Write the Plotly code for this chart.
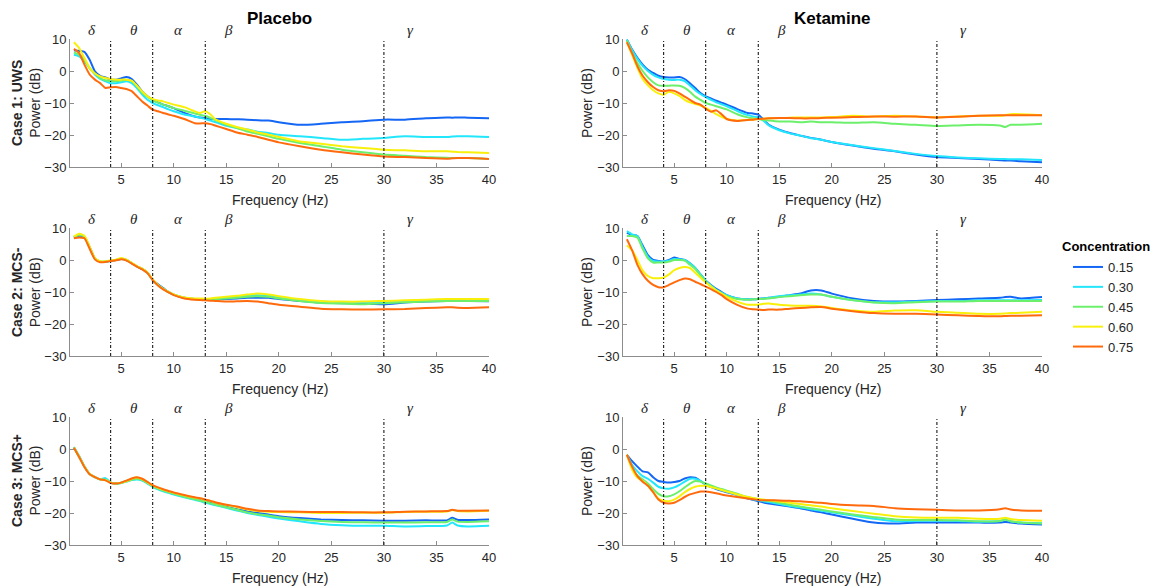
import plotly.graph_objects as go

# ---------------- data ----------------
FREQ = [0.5, 1, 1.5, 2, 2.5, 3, 3.5, 4, 4.5, 5, 5.5, 6, 6.5, 7, 7.5, 8, 8.5, 9, 9.5, 10,
        11, 12, 12.5, 13, 13.5, 14, 15, 16, 17, 18, 19, 20, 22, 24, 26, 28, 30, 32, 34, 36,
        36.5, 37, 38, 40]

CONCENTRATIONS = ["0.15", "0.30", "0.45", "0.60", "0.75"]
LEGEND_TITLE = "Concentration"
COLORS = ["#1466f5", "#22e6fb", "#6cf06c", "#f8f00a", "#ff6a0d"]

COLUMN_TITLES = ["Placebo", "Ketamine"]
CASE_LABELS = ["Case 1: UWS", "Case 2: MCS-", "Case 3: MCS+"]
BAND_EDGES = [4, 8, 13, 30]
BAND_LABELS = ["δ", "θ", "α", "β", "γ"]
BAND_LABEL_POS = [2.2, 6.2, 10.5, 15.2, 32.5]
X_TICKS = [5, 10, 15, 20, 25, 30, 35, 40]
Y_TICKS = [-30, -20, -10, 0, 10]

# Case 1 (UWS) - Placebo
placebo_uws_015 = [6.5, 6.3, 6.0, 3.5, -0.1, -1.5, -2.0, -2.7, -2.7, -2.3, -1.9, -2.5, -4.3, -6.4, -7.9, -9.0, -9.8, -10.5, -11.0, -11.6,
                   -13.1, -14.2, -14.5, -14.7, -15.0, -15.0, -15.0, -15.1, -15.2, -15.4, -15.5, -16.0, -16.8, -16.5, -16.0, -15.7, -15.2, -15.2, -14.8, -14.5,
                   -14.6, -14.5, -14.6, -14.8]
placebo_uws_030 = [5.1, 4.6, 3.0, 0.9, -1.1, -2.5, -3.2, -3.8, -3.8, -3.5, -3.2, -3.8, -5.3, -7.4, -9.0, -10.0, -10.7, -11.3, -12.0, -12.6,
                   -13.6, -14.2, -14.6, -15.0, -15.5, -16.0, -17.1, -17.8, -18.3, -19.0, -19.4, -19.9, -20.4, -20.9, -21.5, -21.2, -20.9, -20.4, -20.6, -20.6,
                   -20.5, -20.4, -20.4, -20.6]
placebo_uws_045 = [5.8, 5.1, 3.5, 0.9, -0.8, -2.2, -2.9, -3.2, -3.2, -3.0, -2.7, -3.2, -4.8, -6.9, -8.1, -9.2, -9.9, -10.5, -11.0, -11.6,
                   -12.4, -13.3, -13.7, -14.0, -14.7, -15.4, -16.8, -17.8, -18.9, -19.6, -20.4, -21.2, -22.5, -23.5, -24.6, -25.4, -26.1, -26.5, -26.9, -27.1,
                   -27.2, -27.2, -27.2, -27.5]
placebo_uws_060 = [9.0, 7.2, 4.1, 0.9, -0.8, -1.7, -2.2, -2.5, -2.7, -2.7, -2.7, -3.0, -4.6, -6.4, -7.9, -8.8, -9.2, -9.5, -10.0, -10.5,
                   -11.3, -12.6, -13.1, -12.6, -13.6, -15.2, -16.5, -17.5, -18.3, -19.2, -19.9, -20.6, -22.0, -22.7, -23.5, -24.1, -24.6, -24.8, -25.1, -25.1,
                   -25.2, -25.3, -25.4, -25.6]
placebo_uws_075 = [6.9, 5.6, 2.0, -1.1, -2.7, -3.8, -5.3, -5.1, -5.0, -5.3, -5.6, -6.3, -7.9, -9.5, -10.8, -12.1, -12.6, -13.1, -13.6, -14.0,
                   -15.0, -16.3, -16.4, -16.3, -16.6, -17.1, -18.1, -19.2, -19.9, -20.6, -21.5, -22.3, -23.5, -24.6, -25.4, -26.1, -26.7, -26.9, -27.2, -27.4,
                   -27.3, -27.2, -27.2, -27.5]

# Case 1 (UWS) - Ketamine
ketamine_uws_015 = [9.8, 6.7, 4.1, 2.0, 0.4, -0.6, -1.5, -1.9, -2.0, -2.0, -1.9, -2.5, -3.8, -5.3, -6.9, -7.9, -8.6, -9.3, -9.9, -10.5,
                    -11.9, -13.1, -13.3, -13.6, -15.2, -16.8, -18.3, -19.4, -20.2, -20.9, -21.5, -22.2, -23.3, -24.3, -25.1, -26.1, -26.9, -27.2, -27.5, -27.9,
                    -28.0, -28.0, -28.2, -28.5]
ketamine_uws_030 = [9.8, 6.5, 3.8, 1.6, 0.0, -1.2, -2.0, -2.5, -2.7, -2.8, -2.7, -3.2, -4.5, -6.0, -7.2, -8.2, -9.0, -9.8, -10.4, -11.0,
                    -12.5, -13.8, -14.2, -14.5, -15.5, -17.0, -18.5, -19.5, -20.2, -21.0, -21.5, -22.2, -23.2, -24.1, -25.0, -25.9, -26.6, -27.0, -27.3, -27.5,
                    -27.5, -27.6, -27.6, -27.8]
ketamine_uws_045 = [9.5, 5.5, 2.5, 0.0, -2.0, -3.5, -4.5, -4.6, -4.6, -4.5, -4.6, -5.3, -6.5, -8.0, -9.0, -10.0, -10.5, -11.0, -11.5, -12.0,
                    -13.5, -14.5, -14.8, -15.0, -15.3, -15.5, -15.8, -15.8, -16.0, -15.8, -16.0, -16.0, -16.2, -16.0, -16.5, -16.8, -17.2, -17.0, -16.8, -17.0,
                    -17.5, -16.8, -16.8, -16.5]
ketamine_uws_060 = [9.0, 5.0, 1.0, -2.5, -4.5, -6.0, -7.0, -7.4, -6.5, -7.0, -7.8, -9.0, -9.8, -10.3, -10.8, -11.5, -12.5, -13.5, -14.3, -15.0,
                    -15.5, -15.3, -15.2, -15.0, -14.9, -14.8, -14.7, -14.6, -14.5, -14.5, -14.5, -14.4, -14.0, -14.2, -14.0, -14.2, -14.5, -14.2, -14.0, -14.0,
                    -13.8, -13.5, -13.5, -13.8]
ketamine_uws_075 = [9.0, 5.5, 1.5, -1.5, -3.5, -5.0, -6.0, -6.3, -6.0, -6.2, -7.0, -8.0, -9.0, -10.0, -10.5, -11.8, -12.7, -12.3, -13.5, -15.0,
                    -15.6, -15.3, -15.2, -15.0, -14.9, -14.8, -14.7, -14.7, -14.8, -14.8, -14.7, -14.6, -14.4, -14.2, -14.3, -14.2, -14.5, -14.3, -14.0, -13.8,
                    -13.8, -13.8, -13.8, -13.8]

# Case 2 (MCS-) - Placebo
placebo_mcsm_015 = [7.0, 7.6, 7.2, 4.0, 0.5, -0.5, -0.6, -0.2, 0.0, 0.3, 0.0, -1.0, -2.0, -2.8, -4.0, -6.2, -7.6, -8.8, -10.0, -10.8,
                    -11.8, -12.2, -12.3, -12.4, -12.4, -12.3, -12.2, -12.0, -11.8, -11.8, -11.8, -12.2, -12.8, -13.3, -13.5, -13.6, -13.8, -13.3, -13.0, -12.8,
                    -12.8, -12.8, -12.8, -12.9]
placebo_mcsm_030 = [7.2, 7.8, 7.3, 4.0, 0.5, -0.5, -0.5, -0.2, 0.0, 0.4, 0.0, -1.0, -2.0, -2.8, -4.0, -6.2, -7.8, -9.0, -10.0, -10.8,
                    -11.8, -12.2, -12.2, -12.3, -12.2, -12.0, -11.8, -11.6, -11.2, -11.0, -11.2, -11.8, -12.5, -13.0, -13.3, -13.3, -13.2, -13.0, -12.8, -12.5,
                    -12.5, -12.5, -12.5, -12.6]
placebo_mcsm_045 = [7.2, 7.8, 7.3, 4.0, 0.5, -0.5, -0.5, -0.2, 0.0, 0.4, 0.0, -1.0, -2.0, -2.8, -4.0, -6.2, -7.8, -9.0, -10.0, -10.8,
                    -11.8, -12.2, -12.3, -12.4, -12.3, -12.2, -12.0, -11.8, -11.5, -11.3, -11.5, -12.0, -12.8, -13.4, -13.6, -13.8, -13.5, -13.2, -13.0, -12.8,
                    -12.8, -12.8, -12.8, -12.8]
placebo_mcsm_060 = [7.3, 8.2, 7.6, 4.2, 0.6, -0.4, -0.4, -0.1, 0.1, 0.6, 0.1, -0.9, -1.9, -2.7, -3.9, -6.1, -7.8, -9.0, -10.0, -10.8,
                    -11.7, -12.0, -12.0, -12.1, -12.0, -11.8, -11.5, -11.2, -10.8, -10.5, -10.8, -11.3, -12.2, -12.8, -13.0, -13.0, -12.8, -12.6, -12.4, -12.2,
                    -12.2, -12.2, -12.2, -12.2]
placebo_mcsm_075 = [6.8, 7.0, 6.8, 3.5, 0.2, -0.7, -0.6, -0.3, -0.1, 0.2, -0.2, -1.1, -2.1, -2.9, -4.1, -6.3, -8.0, -9.2, -10.1, -11.0,
                    -12.0, -12.4, -12.5, -12.6, -12.7, -12.8, -13.0, -12.9, -12.8, -13.0, -13.5, -14.0, -14.6, -15.2, -15.4, -15.5, -15.4, -15.3, -15.0, -14.8,
                    -14.8, -14.9, -15.0, -14.8]

# Case 2 (MCS-) - Ketamine
ketamine_mcsm_015 = [8.5, 7.8, 7.5, 4.5, 1.5, 0.0, -0.3, -0.5, 0.0, 0.8, 0.3, 0.0, -1.0, -2.5, -4.5, -6.5, -7.8, -9.0, -10.0, -11.0,
                     -12.0, -12.3, -12.3, -12.2, -12.0, -11.8, -11.5, -11.0, -10.5, -9.5, -9.5, -10.5, -12.0, -12.8, -13.0, -12.8, -12.5, -12.3, -12.0, -11.8,
                     -11.6, -11.5, -12.0, -11.6]
ketamine_mcsm_030 = [9.0, 8.0, 7.5, 4.0, 1.0, -0.3, -0.5, -0.5, -0.2, 0.3, 0.2, 0.0, -1.0, -2.5, -4.5, -6.5, -8.0, -9.3, -10.2, -11.0,
                     -12.0, -12.3, -12.3, -12.2, -12.0, -11.8, -11.3, -11.0, -10.8, -10.5, -10.8, -11.5, -12.5, -13.2, -13.2, -13.0, -12.8, -12.8, -12.6, -12.6,
                     -12.6, -12.6, -12.6, -12.5]
ketamine_mcsm_045 = [7.5, 7.5, 7.0, 3.5, 0.5, -0.8, -0.8, -0.8, -0.5, 0.0, 0.0, -0.2, -1.5, -2.8, -4.8, -6.8, -8.2, -9.5, -10.5, -11.3,
                     -12.2, -12.4, -12.3, -12.2, -12.1, -12.0, -11.6, -11.3, -11.0, -10.8, -10.8, -11.5, -12.6, -13.3, -13.5, -13.2, -13.0, -13.0, -12.8, -12.8,
                     -12.8, -12.8, -12.8, -12.8]
ketamine_mcsm_060 = [4.5, 3.0, 0.0, -3.3, -5.0, -5.7, -5.7, -5.5, -4.5, -3.2, -2.5, -2.2, -2.5, -4.0, -5.5, -7.0, -8.3, -9.5, -10.5, -11.5,
                     -13.0, -14.0, -14.0, -14.0, -13.7, -13.6, -14.0, -14.2, -14.3, -14.3, -14.5, -15.0, -15.8, -16.2, -15.8, -15.7, -16.2, -16.5, -16.8, -16.8,
                     -16.7, -16.6, -16.5, -16.2]
ketamine_mcsm_075 = [6.5, 3.0, -1.5, -4.5, -6.5, -7.8, -8.5, -8.5, -7.8, -7.0, -6.3, -5.8, -6.0, -6.8, -7.5, -8.3, -9.1, -10.0, -11.0, -12.2,
                     -14.0, -15.2, -15.4, -15.5, -15.6, -15.5, -15.5, -15.2, -15.0, -14.8, -14.7, -15.2, -16.0, -16.6, -16.8, -16.8, -17.0, -17.3, -17.5, -17.6,
                     -17.5, -17.4, -17.4, -17.3]

# Case 3 (MCS+) - Placebo
placebo_mcsp_015 = [0.5, -2.4, -5.5, -7.8, -8.8, -9.5, -9.6, -10.5, -10.8, -10.5, -10.0, -9.4, -9.1, -9.6, -10.6, -11.6, -12.3, -12.9, -13.4, -13.9,
                    -14.8, -15.6, -15.9, -16.2, -16.7, -17.2, -18.0, -18.8, -19.5, -20.0, -20.5, -21.0, -21.6, -22.0, -22.2, -22.3, -22.4, -22.4, -22.3, -22.3,
                    -21.5, -22.1, -22.2, -22.0]
placebo_mcsp_030 = [0.6, -2.2, -5.4, -7.8, -8.9, -9.5, -9.1, -10.4, -10.8, -10.6, -10.2, -9.7, -9.5, -9.9, -10.8, -11.8, -12.6, -13.2, -13.7, -14.2,
                    -15.1, -15.9, -16.3, -16.8, -17.2, -17.6, -18.4, -19.2, -20.0, -20.6, -21.2, -21.7, -22.6, -23.4, -23.8, -24.0, -24.0, -24.2, -24.1, -23.9,
                    -23.0, -23.9, -24.2, -24.0]
placebo_mcsp_045 = [0.5, -2.4, -5.5, -7.8, -8.8, -9.5, -9.6, -10.5, -10.8, -10.6, -10.1, -9.6, -9.3, -9.7, -10.6, -11.6, -12.4, -13.0, -13.5, -14.0,
                    -14.9, -15.7, -16.1, -16.5, -17.0, -17.4, -18.2, -19.0, -19.8, -20.4, -20.8, -21.3, -22.0, -22.5, -22.8, -22.9, -23.0, -23.0, -22.9, -22.8,
                    -22.0, -22.7, -22.8, -22.6]
placebo_mcsp_060 = [0.5, -2.4, -5.5, -7.8, -8.8, -9.5, -9.7, -10.5, -10.8, -10.5, -10.0, -9.3, -8.9, -9.4, -10.4, -11.4, -12.1, -12.7, -13.2, -13.7,
                    -14.5, -15.2, -15.5, -15.9, -16.3, -16.8, -17.5, -18.1, -18.9, -19.4, -19.6, -19.7, -19.8, -20.0, -20.0, -19.9, -19.9, -19.7, -19.6, -19.5,
                    -19.1, -19.4, -19.5, -19.3]
placebo_mcsp_075 = [0.4, -2.5, -5.6, -7.9, -8.8, -9.5, -9.8, -10.6, -10.8, -10.5, -9.9, -9.2, -8.8, -9.3, -10.3, -11.3, -12.0, -12.6, -13.1, -13.6,
                    -14.4, -15.1, -15.4, -15.8, -16.2, -16.7, -17.4, -18.0, -18.7, -19.2, -19.4, -19.5, -19.6, -19.7, -19.7, -19.8, -19.8, -19.6, -19.5, -19.4,
                    -19.0, -19.3, -19.3, -19.2]

# Case 3 (MCS+) - Ketamine
ketamine_mcsp_015 = [-1.8, -3.8, -5.5, -7.0, -7.3, -8.8, -10.0, -10.3, -10.5, -10.3, -10.0, -9.2, -8.8, -9.0, -10.0, -11.2, -11.9, -12.5, -13.0, -13.5,
                     -14.3, -15.5, -15.9, -16.3, -16.7, -17.0, -17.5, -18.0, -18.5, -19.2, -19.8, -20.5, -21.8, -23.0, -23.3, -23.0, -23.0, -23.0, -23.0, -23.0,
                     -22.8, -23.0, -23.3, -23.6]
ketamine_mcsp_030 = [-1.8, -5.0, -7.0, -8.5, -9.3, -10.5, -11.8, -12.3, -12.4, -12.0, -11.2, -10.2, -9.3, -9.3, -10.0, -11.0, -11.7, -12.3, -12.8, -13.3,
                     -14.3, -15.3, -15.7, -16.0, -16.3, -16.6, -17.2, -17.8, -18.3, -18.8, -19.3, -19.8, -20.8, -21.8, -22.6, -22.5, -22.4, -22.5, -22.7, -22.5,
                     -22.0, -22.6, -23.0, -23.2]
ketamine_mcsp_045 = [-1.8, -6.0, -8.3, -9.5, -10.8, -12.5, -14.0, -14.8, -14.8, -14.2, -13.2, -12.0, -10.8, -10.0, -10.2, -10.8, -11.4, -12.0, -12.5, -13.0,
                     -14.0, -15.0, -15.4, -15.7, -16.0, -16.2, -16.8, -17.4, -18.0, -18.5, -19.0, -19.5, -20.5, -21.3, -22.0, -22.2, -22.2, -22.3, -22.6, -22.5,
                     -22.0, -22.6, -23.0, -23.3]
ketamine_mcsp_060 = [-1.8, -6.5, -9.0, -10.0, -11.5, -13.5, -15.5, -16.2, -16.3, -15.8, -14.8, -13.5, -12.5, -11.8, -11.5, -11.5, -11.9, -12.3, -12.8, -13.3,
                     -14.2, -15.0, -15.3, -15.6, -15.8, -16.0, -16.4, -16.8, -17.2, -17.6, -18.0, -18.5, -19.4, -20.2, -21.0, -21.4, -21.5, -21.5, -21.8, -21.8,
                     -21.5, -21.9, -22.2, -22.4]
ketamine_mcsp_075 = [-1.8, -5.5, -8.5, -10.2, -11.5, -13.5, -15.8, -16.8, -17.0, -16.8, -16.0, -15.0, -14.2, -13.7, -13.3, -13.3, -13.5, -13.8, -14.2, -14.5,
                     -15.0, -15.5, -15.7, -15.9, -16.0, -16.0, -16.1, -16.2, -16.3, -16.6, -16.8, -17.2, -17.6, -17.8, -18.5, -18.8, -19.0, -19.2, -19.2, -18.8,
                     -18.5, -18.9, -19.2, -19.3]

PANELS = [
    [placebo_uws_015, placebo_uws_030, placebo_uws_045, placebo_uws_060, placebo_uws_075],
    [ketamine_uws_015, ketamine_uws_030, ketamine_uws_045, ketamine_uws_060, ketamine_uws_075],
    [placebo_mcsm_015, placebo_mcsm_030, placebo_mcsm_045, placebo_mcsm_060, placebo_mcsm_075],
    [ketamine_mcsm_015, ketamine_mcsm_030, ketamine_mcsm_045, ketamine_mcsm_060, ketamine_mcsm_075],
    [placebo_mcsp_015, placebo_mcsp_030, placebo_mcsp_045, placebo_mcsp_060, placebo_mcsp_075],
    [ketamine_mcsp_015, ketamine_mcsp_030, ketamine_mcsp_045, ketamine_mcsp_060, ketamine_mcsp_075],
]

for p in PANELS:
    for s in p:
        assert len(s) == len(FREQ), len(s)

# ---------------- layout geometry (pixels) ----------------
W, H = 1151, 588
COL_X = [(70, 489), (623, 1042)]
ROW_Y = [(39, 167), (228, 356), (417, 545)]
FONT = "Liberation Sans, Arial, Helvetica, sans-serif"
TXT = "#262626"
AXC = "#8c8c8c"

def px_x(v):
    return v / W

def px_y(v):
    return 1 - v / H

fig = go.Figure()
layout = dict(
    width=W, height=H,
    margin=dict(l=0, r=0, t=0, b=0, autoexpand=False),
    paper_bgcolor="white", plot_bgcolor="white",
    font=dict(family=FONT, size=13, color=TXT),
    showlegend=True,
)
shapes = []
annotations = []

for idx, series in enumerate(PANELS):
    row, col = divmod(idx, 2)
    n = idx + 1
    xa = "x" if n == 1 else f"x{n}"
    ya = "y" if n == 1 else f"y{n}"
    for k, vals in enumerate(series):
        fig.add_trace(go.Scatter(
            x=FREQ, y=vals, mode="lines",
            line=dict(color=COLORS[k], width=2, shape="spline", smoothing=0.6),
            name=CONCENTRATIONS[k], legendgroup=CONCENTRATIONS[k],
            showlegend=(idx == 0), xaxis=xa, yaxis=ya,
        ))
    x0, x1 = COL_X[col]
    y0, y1 = ROW_Y[row]
    axkey = "xaxis" if n == 1 else f"xaxis{n}"
    aykey = "yaxis" if n == 1 else f"yaxis{n}"
    layout[axkey] = dict(
        domain=[px_x(x0), px_x(x1)], anchor=ya, range=[0.13, 40],
        tickvals=X_TICKS, ticks="inside", ticklen=4, tickcolor=AXC,
        showline=True, linecolor=AXC, linewidth=1, showgrid=False, zeroline=False,
        tickfont=dict(size=13, color=TXT), automargin=False,
    )
    layout[aykey] = dict(
        domain=[px_y(y1), px_y(y0)], anchor=xa, range=[-30, 10],
        tickvals=Y_TICKS, ticks="inside", ticklen=4, tickcolor=AXC,
        showline=True, linecolor=AXC, linewidth=1, showgrid=False, zeroline=False,
        tickfont=dict(size=13, color=TXT), automargin=False,
    )
    for e in BAND_EDGES:
        shapes.append(dict(type="line", xref=xa, yref=f"{ya} domain", x0=e, x1=e, y0=0, y1=1,
                           line=dict(color="black", width=1, dash="3px,2px,1px,2px")))
    for lab, pos in zip(BAND_LABELS, BAND_LABEL_POS):
        annotations.append(dict(text=f"<i>{lab}</i>", x=pos, xref=xa, y=1, yref=f"{ya} domain",
                                yanchor="bottom", xanchor="center", showarrow=False, yshift=-1,
                                font=dict(family="Liberation Serif, Times New Roman, serif", size=15, color=TXT)))
    # x title
    annotations.append(dict(text="Frequency (Hz)", x=px_x((x0 + x1) / 2), y=px_y(y1 + 33),
                            xref="paper", yref="paper", xanchor="center", yanchor="middle",
                            showarrow=False, font=dict(size=14, color=TXT)))
    # y title
    if col == 0:
        annotations.append(dict(text=f"<b>{CASE_LABELS[row]}</b><br>Power (dB)", x=px_x(26),
                                y=px_y((y0 + y1) / 2), xref="paper", yref="paper",
                                xanchor="center", yanchor="middle", textangle=-90, showarrow=False,
                                font=dict(size=14, color=TXT)))
    else:
        annotations.append(dict(text="Power (dB)", x=px_x(587), y=px_y((y0 + y1) / 2),
                                xref="paper", yref="paper", xanchor="center", yanchor="middle",
                                textangle=-90, showarrow=False, font=dict(size=14, color=TXT)))

for col, t in enumerate(COLUMN_TITLES):
    x0, x1 = COL_X[col]
    annotations.append(dict(text=f"<b>{t}</b>", x=px_x((x0 + x1) / 2), y=px_y(18),
                            xref="paper", yref="paper", xanchor="center", yanchor="middle",
                            showarrow=False, font=dict(size=17, color="black")))

# legend heading (kept as a text item so it can sit centred over the entries)
annotations.append(dict(text=f"<b>{LEGEND_TITLE}</b>", x=px_x(1106), y=px_y(246),
                        xref="paper", yref="paper", xanchor="center", yanchor="middle",
                        showarrow=False, font=dict(size=13, color="black")))

layout["shapes"] = shapes
layout["annotations"] = annotations
layout["legend"] = dict(
    x=px_x(1068), y=px_y(252), xanchor="left", yanchor="top",
    font=dict(size=13, color=TXT), bgcolor="rgba(0,0,0,0)", tracegroupgap=0,
)
fig.update_layout(**layout)
fig.write_html("out.html")
